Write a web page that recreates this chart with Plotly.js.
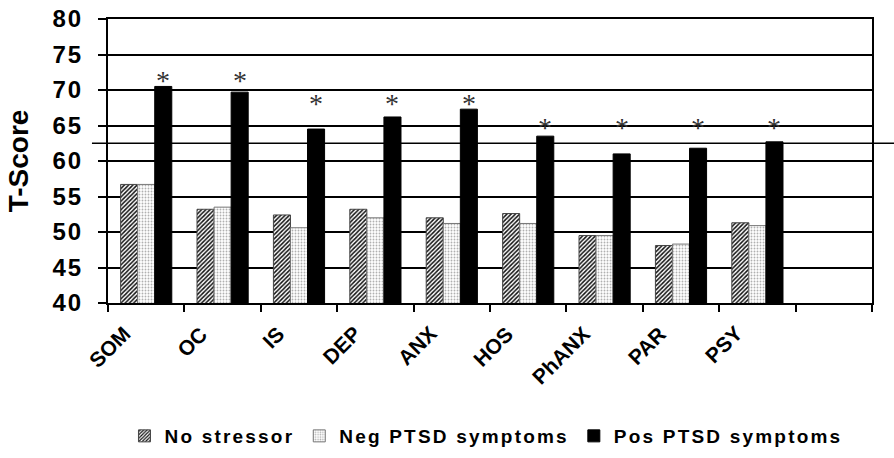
<!DOCTYPE html>
<html>
<head>
<meta charset="utf-8">
<script src="https://cdn.plot.ly/plotly-3.0.1.min.js"></script>
<style>
html,body{margin:0;padding:0;background:#fff;}
#chart{width:894px;height:458px;}
.legendtext{letter-spacing:2.2px;}
.ytick text{letter-spacing:2px;}
</style>
</head>
<body>
<div id="chart"></div>
<script>
// ---- data ----
const categories = ['SOM', 'OC', 'IS', 'DEP', 'ANX', 'HOS', 'PhANX', 'PAR', 'PSY'];
const emptySlot = ' ';
const seriesNames = ['No stressor', 'Neg PTSD symptoms', 'Pos PTSD symptoms'];
const noStressor = [56.7, 53.2, 52.4, 53.2, 52.0, 52.6, 49.5, 48.1, 51.3];
const negPTSD    = [56.7, 53.5, 50.6, 52.0, 51.2, 51.2, 49.5, 48.3, 50.9];
const posPTSD    = [70.5, 69.7, 64.5, 66.2, 67.3, 63.5, 61.0, 61.8, 62.7];
const starLevels = [72.1, 72.1, 68.8, 68.8, 68.8, 65.4, 65.4, 65.4, 65.4];
const cutoff = 62.5;
const yTickVals = [40, 45, 50, 55, 60, 65, 70, 75, 80];

const yMin = 40, yMax = 80;
const FONT = 'Liberation Sans, Arial, sans-serif';

const traces = [
  {
    type: 'bar', name: seriesNames[0], x: categories, y: noStressor,
    marker: {color: '#ffffff', line: {color: '#444', width: 1},
      pattern: {shape: '/', fgcolor: '#111', bgcolor: '#fff', size: 3, solidity: 0.5}}
  },
  {
    type: 'bar', name: seriesNames[1], x: categories, y: negPTSD,
    marker: {color: '#ffffff', line: {color: '#777', width: 1},
      pattern: {shape: '.', fgcolor: '#b0b0b0', bgcolor: '#fff', size: 3, solidity: 0.3}}
  },
  {
    type: 'bar', name: seriesNames[2], x: categories, y: posPTSD,
    marker: {color: '#000000', line: {color: '#000', width: 1}}
  }
];

const starNotes = categories.map((c, i) => ({
  x: c, y: starLevels[i], xref: 'x', yref: 'y',
  text: '*', showarrow: false, xshift: 17, yshift: -5,
  yanchor: 'middle', xanchor: 'center',
  font: {family: 'Liberation Serif, Times New Roman, serif', size: 28, color: '#333'}
}));

const labelNotes = categories.map(c => ({
  x: c, y: 0, xref: 'x', yref: 'paper',
  text: c, showarrow: false, textangle: -45,
  xanchor: 'right', yanchor: 'top', xshift: -8, yshift: -16,
  font: {family: FONT, size: 21, color: '#000', weight: 'bold'}
}));

const layout = {
  width: 894, height: 458,
  margin: {l: 108, r: 22, t: 19, b: 155, pad: 0},
  paper_bgcolor: '#fff', plot_bgcolor: '#fff',
  barmode: 'group', bargap: 0.33, bargroupgap: 0,
  showlegend: true,
  legend: {orientation: 'h', x: 0.5436, xref: 'container', xanchor: 'center',
    y: 0.048, yref: 'container', yanchor: 'middle',
    font: {family: FONT, size: 19, color: '#000', weight: 'bold'}, traceorder: 'normal'},
  xaxis: {
    type: 'category', categoryorder: 'array', categoryarray: categories.concat([emptySlot]),
    range: [-0.5, 9.5], tickson: 'boundaries', ticks: 'outside', ticklen: 7, tickwidth: 2,
    tickcolor: '#000', showline: true, linecolor: '#000', linewidth: 2, mirror: true,
    showgrid: false, showticklabels: false, automargin: false
  },
  yaxis: {
    range: [yMin, yMax], tickvals: yTickVals, ticks: 'outside', ticklen: 8, tickwidth: 2,
    tickcolor: '#000', showline: true, linecolor: '#000', linewidth: 2, mirror: true,
    showgrid: true, gridcolor: '#000', gridwidth: 2, zeroline: false, automargin: false,
    ticklabelstandoff: 10,
    tickfont: {family: FONT, size: 24, color: '#000', weight: 'bold'},
    title: {text: 'T-Score', standoff: 16, font: {family: FONT, size: 28, color: '#000', weight: 'bold'}}
  },
  shapes: [{
    type: 'line', xref: 'paper', yref: 'paper',
    x0: -0.021, x1: 1.03,
    y0: (cutoff - yMin) / (yMax - yMin), y1: (cutoff - yMin) / (yMax - yMin),
    line: {color: '#000', width: 1.5}, layer: 'above'
  }],
  annotations: starNotes.concat(labelNotes)
};

Plotly.newPlot('chart', traces, layout, {staticPlot: true, displayModeBar: false});
</script>
</body>
</html>
